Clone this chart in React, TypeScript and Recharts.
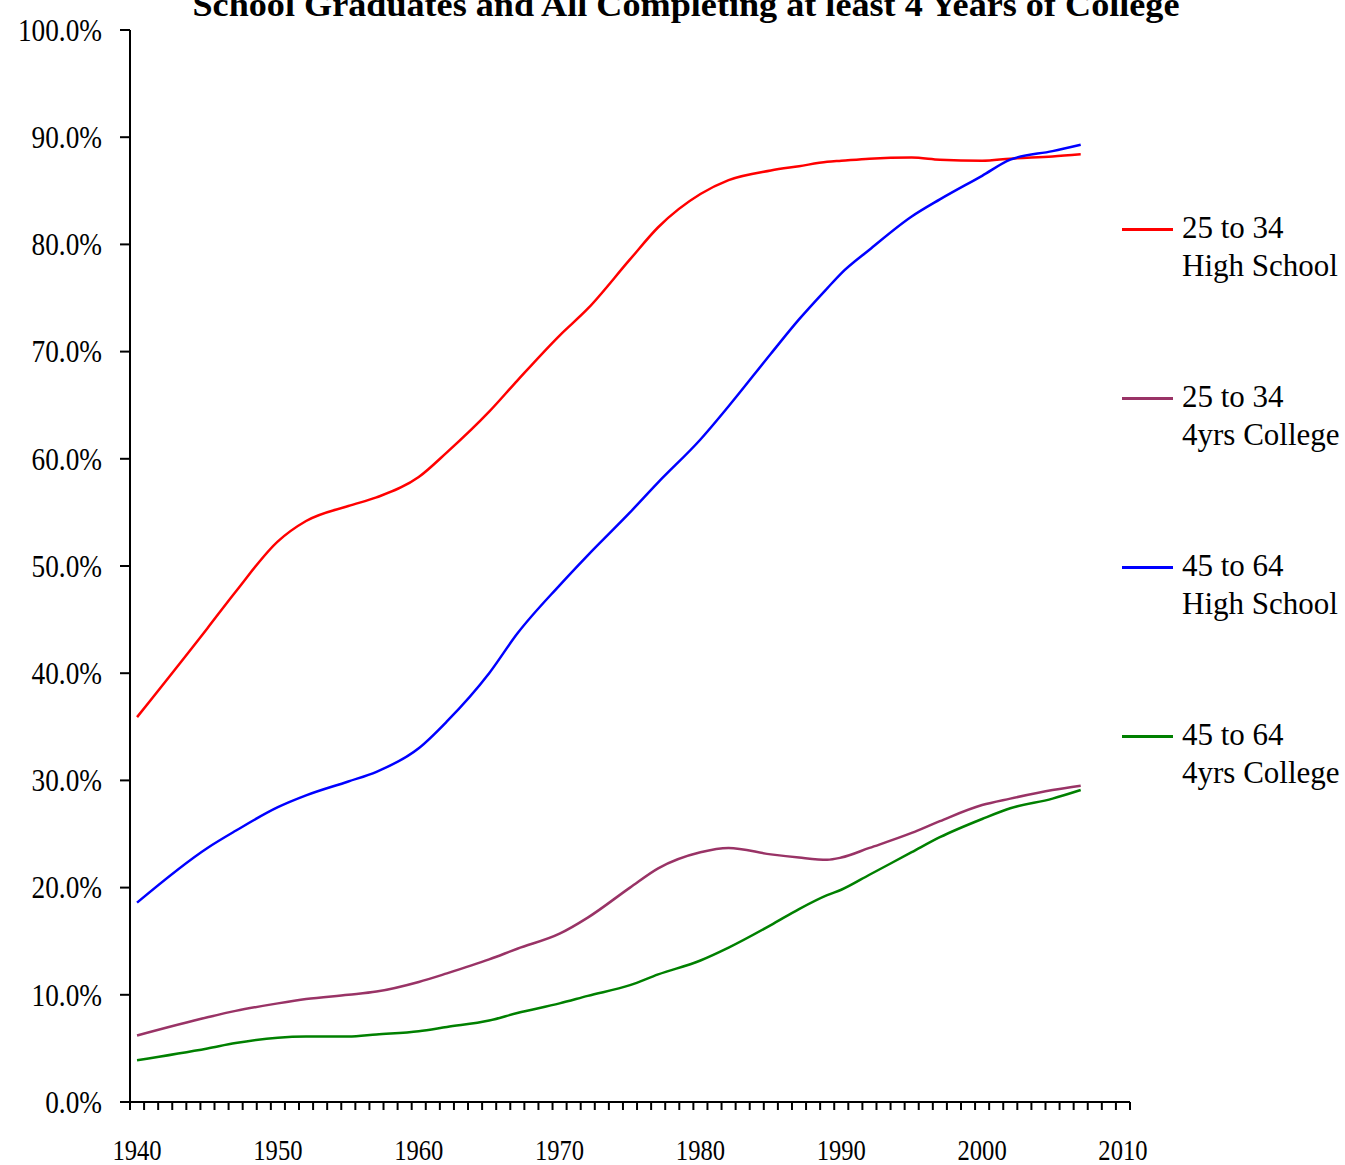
import React from "react";
import { LineChart, Line, XAxis, YAxis, Legend } from "recharts";

// years (census points)
const years = [
  1940, 1945, 1947, 1950, 1952, 1955, 1957, 1960, 1962, 1965, 1967, 1970, 1972, 1975,
  1977, 1980, 1982, 1985, 1987, 1989, 1990, 1992, 1995, 1997, 2000, 2002, 2005, 2007,
];

// percent of population
const hs25to34 = [
  35.9, 44.2, 47.6, 52.3, 54.2, 55.6, 56.4, 58.3, 60.6, 64.4, 67.3, 71.5, 74.0, 78.6,
  81.6, 84.7, 86.0, 86.9, 87.3, 87.7, 87.8, 88.0, 88.1, 87.9, 87.8, 88.0, 88.2, 88.4,
];
const col25to34 = [
  6.2, 7.9, 8.5, 9.2, 9.6, 10.0, 10.3, 11.2, 12.0, 13.3, 14.3, 15.7, 17.2, 20.0,
  21.8, 23.3, 23.7, 23.1, 22.8, 22.6, 22.8, 23.7, 25.1, 26.2, 27.7, 28.3, 29.1, 29.5,
];
const hs45to64 = [
  18.6, 23.7, 25.3, 27.5, 28.6, 29.9, 30.8, 33.0, 35.5, 40.0, 43.7, 48.2, 51.0, 55.0,
  57.8, 61.8, 64.9, 69.8, 73.0, 75.9, 77.3, 79.5, 82.6, 84.2, 86.4, 87.9, 88.7, 89.3,
];
const col45to64 = [
  3.9, 5.0, 5.5, 6.0, 6.1, 6.1, 6.3, 6.6, 7.0, 7.6, 8.3, 9.2, 9.9, 10.9,
  11.9, 13.2, 14.4, 16.5, 18.0, 19.3, 19.8, 21.2, 23.3, 24.7, 26.4, 27.4, 28.3, 29.1,
];

const ageGroups = ["25 to 34", "25 to 34", "45 to 64", "45 to 64"];
const levels = ["High School", "4yrs College", "High School", "4yrs College"];
const seriesKeys = ["hs2534", "col2534", "hs4564", "col4564"];
const seriesColors = ["#FF0000", "#993366", "#0000FF", "#008000"];

const xTickLabels = [1940, 1950, 1960, 1970, 1980, 1990, 2000, 2010];
const yTicks = [0, 10, 20, 30, 40, 50, 60, 70, 80, 90, 100];
// one minor tick between each year
const yearEdges = Array.from({ length: 72 }, (_, i) => 1939.5 + i);

const title = "School Graduates and All Completing at least 4 Years of College";

const data = years.map((year, i) => ({
  year,
  hs2534: hs25to34[i],
  col2534: col25to34[i],
  hs4564: hs45to64[i],
  col4564: col45to64[i],
}));

const FONT = '"Liberation Serif", "Times New Roman", serif';

const YTick = ({ x, y, payload }: any) => (
  <g transform={`translate(${x},${y}) scale(0.88,1)`}>
    <text x={0} y={0} dy="0.35em" textAnchor="end" fontFamily={FONT} fontSize={31} fill="#000">
      {`${Number(payload.value).toFixed(1)}%`}
    </text>
  </g>
);

const XTick = ({ x, y, payload }: any) => (
  <g transform={`translate(${x},${y + 48}) scale(0.82,1)`}>
    <text x={0} y={0} textAnchor="middle" fontFamily={FONT} fontSize={30} fill="#000">
      {payload.value}
    </text>
  </g>
);

const CustomLegend = ({ payload }: any) => {
  // keep the series order, not the alphabetical one
  const entries = seriesKeys.map((key) => (payload || []).find((p: any) => p.dataKey === key)).filter(Boolean);
  return (
    <div style={{ fontFamily: FONT, fontSize: 31, color: "#000" }}>
      {entries.map((entry: any) => {
        const i = seriesKeys.indexOf(entry.dataKey);
        return (
          <div key={`legend-${i}`} style={{ position: "relative", height: 169 }}>
            <div
              style={{
                position: "absolute",
                left: 2,
                top: 22,
                width: 51,
                height: 3,
                backgroundColor: entry.color,
              }}
            />
            <div style={{ position: "absolute", left: 62, top: 3, lineHeight: "38px", whiteSpace: "nowrap" }}>
              <div>{ageGroups[i]}</div>
              <div>{levels[i]}</div>
            </div>
          </div>
        );
      })}
    </div>
  );
};

export default function App() {
  return (
    <div style={{ position: "absolute", left: 0, top: 0, background: "#fff" }}>
      <LineChart
        width={1345}
        height={1165}
        data={data}
        margin={{ top: 30, right: 215, bottom: 0, left: 0 }}
      >
        <text
          x={686}
          y={16}
          textAnchor="middle"
          fontFamily={FONT}
          fontWeight="bold"
          fontSize={34}
          textLength={987}
          lengthAdjust="spacingAndGlyphs"
          fill="#000"
        >
          {title}
        </text>
        <XAxis
          xAxisId="edges"
          dataKey="year"
          type="number"
          domain={[1939.5, 2010.5]}
          ticks={yearEdges}
          interval={0}
          tickFormatter={() => ""}
          tickSize={8}
          height={10}
          axisLine={{ stroke: "#000", strokeWidth: 2 }}
          tickLine={{ stroke: "#000", strokeWidth: 2 }}
          allowDataOverflow
        />
        <XAxis
          xAxisId="labels"
          dataKey="year"
          type="number"
          domain={[1939.5, 2010.5]}
          ticks={xTickLabels}
          interval={0}
          tick={<XTick />}
          tickSize={0}
          tickMargin={0}
          height={53}
          axisLine={false}
          tickLine={false}
          allowDataOverflow
        />
        <YAxis
          type="number"
          domain={[0, 100]}
          ticks={yTicks}
          interval={0}
          width={130}
          tickSize={10}
          tickMargin={18}
          tick={<YTick />}
          axisLine={{ stroke: "#000", strokeWidth: 2 }}
          tickLine={{ stroke: "#000", strokeWidth: 2 }}
        />
        <Legend
          layout="vertical"
          align="center"
          verticalAlign="middle"
          wrapperStyle={{ left: 1120, top: 206, width: 225 }}
          content={<CustomLegend />}
        />
        {seriesKeys.map((key, i) => (
          <Line
            key={key}
            xAxisId="edges"
            type="monotone"
            dataKey={key}
            name={`${ageGroups[i]} ${levels[i]}`}
            stroke={seriesColors[i]}
            strokeWidth={2.5}
            dot={false}
            isAnimationActive={false}
          />
        ))}
      </LineChart>
    </div>
  );
}
